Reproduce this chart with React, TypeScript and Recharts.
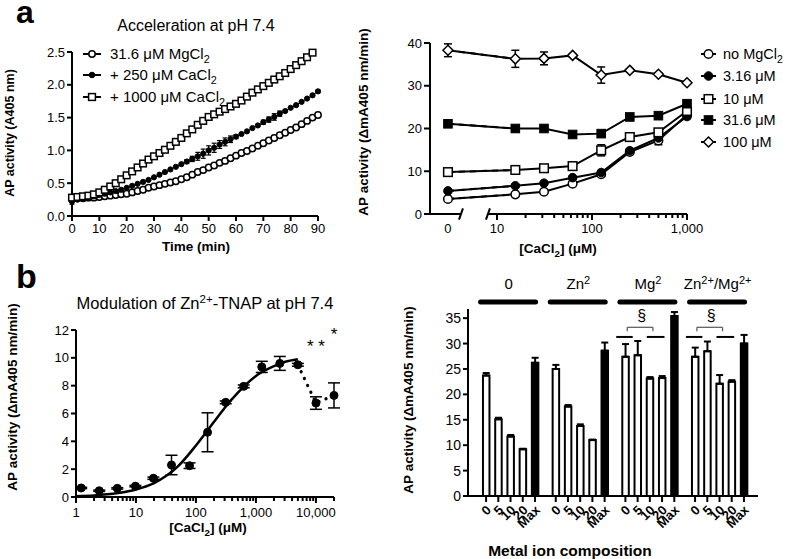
import React from 'react';
import {
  LineChart, Line, BarChart, Bar, XAxis, YAxis, ErrorBar, ReferenceLine, ReferenceDot, Cell,
} from 'recharts';

const FONT = '"Liberation Sans", Arial, Helvetica, sans-serif';

// ---------- panel a, left: time course ----------
const timeMin = [0, 2, 4, 6, 8, 10, 12, 14, 16, 18, 20, 22, 24, 26, 28, 30, 32, 34, 36, 38, 40, 42, 44, 46, 48,
  50, 52, 54, 56, 58, 60, 62, 64, 66, 68, 70, 72, 74, 76, 78, 80, 82, 84, 86, 88, 90];
const mgOnly = [0.27, 0.27, 0.27, 0.28, 0.28, 0.29, 0.30, 0.31, 0.32, 0.33, 0.34, 0.36, 0.38, 0.40, 0.43, 0.45,
  0.47, 0.49, 0.51, 0.53, 0.56, 0.59, 0.63, 0.67, 0.70, 0.74, 0.77, 0.81, 0.84, 0.88, 0.92, 0.96, 0.99, 1.03,
  1.07, 1.11, 1.15, 1.19, 1.23, 1.27, 1.31, 1.35, 1.40, 1.45, 1.50, 1.54];
const plusCa250 = [0.22, 0.25, 0.27, 0.28, 0.30, 0.32, 0.34, 0.36, 0.38, 0.40, 0.43, 0.46, 0.49, 0.52, 0.55, 0.59,
  0.63, 0.67, 0.71, 0.75, 0.79, 0.83, 0.87, 0.91, 0.95, 1.00, 1.04, 1.09, 1.13, 1.17, 1.21, 1.25, 1.29, 1.34,
  1.38, 1.43, 1.47, 1.51, 1.56, 1.60, 1.65, 1.69, 1.74, 1.79, 1.84, 1.90];
const plusCa250Err = [0.04, 0, 0, 0, 0, 0, 0, 0, 0, 0, 0, 0, 0, 0, 0, 0,
  0, 0, 0, 0, 0, 0.03, 0.04, 0.06, 0.07, 0.07, 0.07, 0.06, 0.06, 0.05, 0.03, 0, 0, 0,
  0, 0.03, 0.04, 0.05, 0.04, 0, 0, 0, 0, 0, 0.02, 0.02];
const plusCa1000 = [0.28, 0.29, 0.30, 0.31, 0.33, 0.36, 0.40, 0.45, 0.50, 0.56, 0.62, 0.68, 0.74, 0.80, 0.86, 0.91,
  0.96, 1.01, 1.07, 1.13, 1.19, 1.26, 1.32, 1.39, 1.45, 1.51, 1.55, 1.59, 1.63, 1.67, 1.71, 1.76, 1.82, 1.88,
  1.93, 1.98, 2.03, 2.08, 2.13, 2.18, 2.24, 2.30, 2.36, 2.42, 2.49];
const timeTicks = [0, 10, 20, 30, 40, 50, 60, 70, 80, 90];

// ---------- panel a, right: CaCl2 titration at several MgCl2 ----------
const caConc = [0, 15.6, 31.25, 62.5, 125, 250, 500, 1000];
const noMg = [3.5, 4.6, 5.2, 7.1, 9.3, 14.5, 17.2, 23.2];
const noMgErr = [0.4, 0.3, 0.3, 0.4, 0.4, 0.5, 1.0, 0.4];
const mg316 = [5.4, 6.6, 7.2, 8.5, 9.7, 14.8, 17.8, 22.8];
const mg316Err = [0.3, 0.3, 0.3, 0.3, 0.3, 0.5, 0.6, 0.5];
const mg10 = [9.8, 10.3, 10.7, 11.2, 14.9, 18.0, 19.1, 24.1];
const mg10Err = [0.4, 0.4, 0.5, 0.4, 1.3, 0.4, 0.5, 0.6];
const mg316b = [21.1, 20.0, 20.0, 18.6, 18.8, 22.7, 23.0, 25.8];
const mg316bErr = [0.3, 0.3, 0.3, 0.3, 0.6, 0.3, 0.3, 0.3];
const mg100 = [38.3, 36.3, 36.4, 37.1, 32.5, 33.6, 32.7, 30.7];
const mg100Err = [1.5, 2.0, 1.5, 0.3, 1.9, 0.3, 0.3, 0.3];

// ---------- panel b, left: Zn2+-TNAP vs CaCl2 ----------
const caZn = [1.22, 2.44, 4.88, 9.77, 19.5, 39.1, 78.1, 156, 313, 625, 1250, 2500, 5000, 10000, 20000];
const actZn = [0.65, 0.45, 0.62, 0.78, 1.35, 2.3, 2.25, 4.65, 6.8, 7.95, 9.35, 9.6, 9.5, 6.75, 7.3];
const actZnErr = [0.05, 0.05, 0.05, 0.05, 0.08, 0.7, 0.2, 1.4, 0.1, 0.1, 0.4, 0.5, 0.1, 0.45, 0.9];
const fitConc = [1, 2, 5, 10, 20, 50, 100, 200, 300, 500, 1000, 2000, 3000, 5000];
const fitAct = [0.06, 0.11, 0.28, 0.54, 1.0, 2.2, 3.7, 5.4, 6.4, 7.5, 8.7, 9.4, 9.7, 9.9];
const dropConc = [5000, 10000, 20000];
const dropAct = [9.5, 6.75, 7.3];

// ---------- panel b, right: metal ion composition ----------
const groupNames = ['0', 'Zn2', 'Mg2', 'Zn2+/Mg2+'];
const doseLabels = ['0', '5', '10', '20', 'Max'];
const noMetal = [23.7, 15.1, 11.7, 9.2, 26.2];
const noMetalErr = [0.5, 0.3, 0.3, 0.1, 1.0];
const zinc = [25.0, 17.6, 13.8, 11.0, 28.6];
const zincErr = [0.8, 0.3, 0.3, 0.1, 1.6];
const magnesium = [27.4, 27.7, 23.1, 23.2, 35.4];
const magnesiumErr = [2.5, 2.8, 0.3, 0.4, 0.8];
const zincMagnesium = [27.4, 28.5, 22.1, 22.5, 30.0];
const zincMagnesiumErr = [1.8, 1.9, 1.7, 0.3, 1.7];

// ---------- shared styling ----------
const AXIS = { stroke: '#000', strokeWidth: 2 };
const TICK = { fill: '#000', fontSize: 13, fontFamily: FONT };

const openCircle = (r: number) => (p: any) =>
  <circle key={`oc${p.index}`} cx={p.cx} cy={p.cy} r={r} fill="#fff" stroke="#000" strokeWidth={1.5} />;
const filledCircle = (r: number) => (p: any) =>
  <circle key={`fc${p.index}`} cx={p.cx} cy={p.cy} r={r} fill="#000" stroke="#000" strokeWidth={1} />;
const openSquare = (s: number) => (p: any) =>
  <rect key={`os${p.index}`} x={p.cx - s} y={p.cy - s} width={2 * s} height={2 * s} fill="#fff" stroke="#000" strokeWidth={1.5} />;
const filledSquare = (s: number) => (p: any) =>
  <rect key={`fs${p.index}`} x={p.cx - s} y={p.cy - s} width={2 * s} height={2 * s} fill="#000" stroke="#000" strokeWidth={1} />;
const openDiamond = (s: number) => (p: any) =>
  <path key={`od${p.index}`} d={`M${p.cx},${p.cy - s}L${p.cx + s},${p.cy}L${p.cx},${p.cy + s}L${p.cx - s},${p.cy}Z`}
    fill="#fff" stroke="#000" strokeWidth={1.5} />;

// ---------- panel a, left ----------
function KineticsChart() {
  const rows = (ys: number[], errs?: number[]) => ys.map((y, i) => ({ t: timeMin[i], y, e: errs ? errs[i] : 0 }));
  return (
    <div style={{ position: 'absolute', left: 0, top: 0 }}>
      <LineChart width={340} height={260} margin={{ top: 52, right: 22, bottom: 14, left: 32 }}>
        <XAxis type="number" dataKey="t" domain={[0, 90]} ticks={timeTicks}
          axisLine={AXIS} tickLine={AXIS} tick={TICK} tickSize={5} tickMargin={3} height={30} />
        <YAxis type="number" domain={[0, 2.5]} ticks={[0, 0.5, 1, 1.5, 2, 2.5]} tickFormatter={(v: number) => v.toFixed(1)}
          axisLine={AXIS} tickLine={AXIS} tick={TICK} tickSize={5} width={40} />
        <Line data={rows(mgOnly)} dataKey="y" stroke="#000" strokeWidth={1} dot={openCircle(3.2)} isAnimationActive={false} />
        <Line data={rows(plusCa250, plusCa250Err)} dataKey="y" stroke="#000" strokeWidth={1} dot={filledCircle(2.6)} isAnimationActive={false}>
          <ErrorBar dataKey="e" width={2.5} stroke="#000" strokeWidth={1.2} direction="y" />
        </Line>
        <Line data={rows(plusCa1000)} dataKey="y" stroke="#000" strokeWidth={1} dot={openSquare(3.3)} isAnimationActive={false} />
      </LineChart>
    </div>
  );
}

// ---------- panel a, right ----------
const ZERO_POS = 0.484;
const xPos = (c: number) => (c === 0 ? ZERO_POS : Math.log10(c));
const minorA = [20, 30, 40, 50, 60, 70, 80, 90, 200, 300, 400, 500, 600, 700, 800, 900].map(Math.log10);
const ticksA = [ZERO_POS, 1, 2, 3, ...minorA];
const majorLabelA: Record<string, string> = { '1': '10', '2': '100', '3': '1,000' };

const TickA = (p: any) => {
  const v = p.payload.value;
  if (Math.abs(v - ZERO_POS) < 1e-6) {
    return <text x={p.x} y={p.y + 19} textAnchor="middle" fontSize={13} fontFamily={FONT}>0</text>;
  }
  const lbl = majorLabelA[String(v)];
  return (
    <g>
      <line x1={p.x} x2={p.x} y1={p.y} y2={p.y + (lbl ? 6 : 4)} stroke="#000" strokeWidth={2} />
      {lbl && <text x={p.x} y={p.y + 19} textAnchor="middle" fontSize={13} fontFamily={FONT}>{lbl}</text>}
    </g>
  );
};

function TitrationChart() {
  const series = [
    { vals: noMg, errs: noMgErr, dot: openCircle(4.3) },
    { vals: mg316, errs: mg316Err, dot: filledCircle(4.3) },
    { vals: mg10, errs: mg10Err, dot: openSquare(4.3) },
    { vals: mg316b, errs: mg316bErr, dot: filledSquare(4.3) },
    { vals: mg100, errs: mg100Err, dot: openDiamond(5) },
  ];
  return (
    <div style={{ position: 'absolute', left: 390, top: 0 }}>
      <LineChart width={401} height={260} margin={{ top: 43, right: 104, bottom: 16, left: 10 }}>
        <XAxis type="number" dataKey="x" domain={[0.295, 3]} ticks={ticksA}
          axisLine={false} tickLine={false} tickSize={0} tickMargin={0} tick={TickA} height={30} interval={0} />
        <YAxis type="number" domain={[0, 40]} ticks={[0, 10, 20, 30, 40]}
          axisLine={AXIS} tickLine={AXIS} tick={TICK} tickSize={6} width={30} />
        <ReferenceLine segment={[{ x: 0.295, y: 0 }, { x: 0.621, y: 0 }]} stroke="#000" strokeWidth={2} ifOverflow="visible" />
        <ReferenceLine segment={[{ x: 0.905, y: 0 }, { x: 3, y: 0 }]} stroke="#000" strokeWidth={2} ifOverflow="visible" />
        <ReferenceLine segment={[{ x: 0.60, y: -1.3 }, { x: 0.642, y: 1.3 }]} stroke="#000" strokeWidth={2} ifOverflow="visible" />
        <ReferenceLine segment={[{ x: 0.884, y: -1.3 }, { x: 0.926, y: 1.3 }]} stroke="#000" strokeWidth={2} ifOverflow="visible" />
        {series.map((s, k) => {
          const rows = caConc.map((c, i) => ({ x: xPos(c), y: s.vals[i], e: s.errs[i] }));
          return [
            <Line key={`d${k}`} data={rows.slice(0, 2)} dataKey="y" stroke="#000" strokeWidth={2}
              strokeDasharray="6 5" dot={false} isAnimationActive={false} />,
            <Line key={`s${k}`} data={rows} dataKey="y" stroke="#000" strokeWidth={2}
              dot={s.dot} isAnimationActive={false}>
              <ErrorBar dataKey="e" width={4} stroke="#000" strokeWidth={1.5} direction="y" />
            </Line>,
          ];
        })}
      </LineChart>
    </div>
  );
}

// ---------- panel b, left ----------
const minorB: number[] = [];
[1, 10, 100, 1000].forEach((d) => [2, 3, 4, 5, 6, 7, 8, 9].forEach((m) => minorB.push(m * d)));
minorB.push(20000);
const majorLabelB: Record<string, string> = { '1': '1', '10': '10', '100': '100', '1000': '1,000', '10000': '10,000' };
const ticksB = [1, 10, 100, 1000, 10000, ...minorB];

const TickB = (p: any) => {
  const v = p.payload.value;
  const lbl = majorLabelB[String(v)];
  return (
    <g>
      <line x1={p.x} x2={p.x} y1={p.y} y2={p.y + (lbl ? 6 : 4)} stroke="#000" strokeWidth={2} />
      {lbl && <text x={p.x} y={p.y + 20} textAnchor="middle" fontSize={13} fontFamily={FONT}>{lbl}</text>}
    </g>
  );
};

const starLabel = (txt: string) => (p: any) =>
  <text x={p.viewBox.x} y={p.viewBox.y + 9} textAnchor="middle" fontSize={17} fontFamily={FONT}>{txt}</text>;

function ZincChart() {
  const pts = caZn.map((c, i) => ({ c, y: actZn[i], e: actZnErr[i] }));
  const fit = fitConc.map((c, i) => ({ c, y: fitAct[i] }));
  const drop = dropConc.map((c, i) => ({ c, y: dropAct[i] }));
  return (
    <div style={{ position: 'absolute', left: 0, top: 270 }}>
      <LineChart width={360} height={289} margin={{ top: 60, right: 26, bottom: 32, left: 40 }}>
        <XAxis type="number" dataKey="c" scale="log" domain={[1, 20000]} ticks={ticksB} interval={0}
          axisLine={AXIS} tickLine={false} tickSize={0} tickMargin={0} tick={TickB} height={30} />
        <YAxis type="number" domain={[0, 12]} ticks={[0, 2, 4, 6, 8, 10, 12]}
          axisLine={AXIS} tickLine={AXIS} tick={TICK} tickSize={5} width={36} />
        <Line data={fit} dataKey="y" type="monotone" stroke="#000" strokeWidth={2.5} dot={false} isAnimationActive={false} />
        <Line data={drop} dataKey="y" stroke="#000" strokeWidth={3.2} strokeDasharray="0.1 7.5" strokeLinecap="round"
          dot={false} isAnimationActive={false} />
        <Line data={pts} dataKey="y" stroke="none" dot={filledCircle(4)} isAnimationActive={false}>
          <ErrorBar dataKey="e" width={6} stroke="#000" strokeWidth={1.5} direction="y" />
        </Line>
        <ReferenceDot x={10000} y={11.1} r={0} ifOverflow="visible" label={starLabel('* *')} />
        <ReferenceDot x={20000} y={11.9} r={0} ifOverflow="visible" label={starLabel('*')} />
      </LineChart>
    </div>
  );
}

// ---------- panel b, right ----------
const GROUP_STEP = 5.7;
const groupVals = [noMetal, zinc, magnesium, zincMagnesium];
const groupErrs = [noMetalErr, zincErr, magnesiumErr, zincMagnesiumErr];
const barRows = groupVals.flatMap((vals, g) =>
  vals.map((v, i) => ({ pos: g * GROUP_STEP + i, v, e: [0, groupErrs[g][i]], dose: doseLabels[i], max: i === 4 })));

const TickBar = (p: any) => {
  const row = barRows.find((r) => Math.abs(r.pos - p.payload.value) < 1e-6);
  const ax = p.x - 1;
  const ay = p.y + 8;
  return (
    <g>
      <line x1={p.x} x2={p.x} y1={p.y} y2={p.y + 6} stroke="#000" strokeWidth={2} />
      <text x={ax} y={ay} textAnchor="end" dominantBaseline="hanging" fontSize={13} fontWeight="bold" fontFamily={FONT}
        transform={`rotate(-45 ${ax} ${ay})`}>{row ? row.dose : ''}</text>
    </g>
  );
};

const groupLabel = (name: string) => (p: any) => {
  const { x, y } = p.viewBox;
  const parts = name.split('/');
  const out: any[] = [];
  parts.forEach((s, k) => {
    const m = s.match(/^([A-Za-z]+)(.*)$/);
    const lead = k > 0 ? '/' : '';
    if (m && m[2]) {
      out.push(<tspan key={`a${k}`} dy={k > 0 ? 5 : 0}>{lead + m[1]}</tspan>);
      out.push(<tspan key={`b${k}`} dy={-5} fontSize={11}>{m[2]}</tspan>);
    } else {
      out.push(<tspan key={`a${k}`}>{lead + s}</tspan>);
    }
  });
  return (
    <text x={x} y={y + 5} textAnchor="middle" fontSize={15} fontFamily={FONT}>{out}</text>
  );
};

const sectionLabel = (p: any) =>
  <text x={p.viewBox.x} y={p.viewBox.y + 6} textAnchor="middle" fontSize={16} fontFamily={FONT}>§</text>;

function MetalChart() {
  return (
    <div style={{ position: 'absolute', left: 390, top: 270 }}>
      <BarChart width={401} height={289} data={barRows} margin={{ top: 39, right: 33, bottom: 18, left: 48 }}>
        <XAxis type="number" dataKey="pos" domain={[-1.48, 3 * GROUP_STEP + 4 + 1.15]} ticks={barRows.map((r) => r.pos)}
          allowDataOverflow interval={0} axisLine={AXIS} tickLine={false} tickSize={0} tickMargin={0} tick={TickBar} height={45} />
        <YAxis type="number" domain={[0, 36.8]} ticks={[0, 5, 10, 15, 20, 25, 30, 35]}
          axisLine={AXIS} tickLine={AXIS} tick={{ ...TICK, fontSize: 14 }} tickSize={5} width={30} />
        <Bar dataKey="v" barSize={6.5} stroke="#000" strokeWidth={2} isAnimationActive={false}>
          {barRows.map((r, i) => <Cell key={i} fill={r.max ? '#000' : '#fff'} />)}
          <ErrorBar dataKey="e" width={3.5} stroke="#000" strokeWidth={2} direction="y" />
        </Bar>
        {groupNames.map((name, g) => {
          const base = g * GROUP_STEP;
          return [
            <ReferenceLine key={`gl${g}`} segment={[{ x: base - 0.45, y: 38.2 }, { x: base + 4.05, y: 38.2 }]}
              stroke="#000" strokeWidth={5} strokeLinecap="round" ifOverflow="visible" />,
            <ReferenceDot key={`gn${g}`} x={base + 1.85} y={41.7} r={0} ifOverflow="visible" label={groupLabel(name)} />,
          ];
        })}
        {[2, 3].map((g) => {
          const base = g * GROUP_STEP;
          return [
            <ReferenceLine key={`d1${g}`} segment={[{ x: base - 0.75, y: 31.3 }, { x: base + 0.6, y: 31.3 }]} stroke="#000" strokeWidth={2} />,
            <ReferenceLine key={`d2${g}`} segment={[{ x: base + 1.75, y: 31.3 }, { x: base + 3.2, y: 31.3 }]} stroke="#000" strokeWidth={2} />,
            <ReferenceLine key={`b1${g}`} segment={[{ x: base + 0.15, y: 32.4 }, { x: base + 0.15, y: 33.2 }]} stroke="#555" strokeWidth={1.2} />,
            <ReferenceLine key={`b2${g}`} segment={[{ x: base + 0.15, y: 33.2 }, { x: base + 2.25, y: 33.2 }]} stroke="#555" strokeWidth={1.2} />,
            <ReferenceLine key={`b3${g}`} segment={[{ x: base + 2.25, y: 33.2 }, { x: base + 2.25, y: 32.4 }]} stroke="#555" strokeWidth={1.2} />,
            <ReferenceDot key={`sec${g}`} x={base + 1.33} y={35.7} r={0} ifOverflow="visible" label={sectionLabel} />,
          ];
        })}
      </BarChart>
    </div>
  );
}

// ---------- text overlay: titles, axis titles, legends ----------
function Overlay() {
  const sub = (s: string) => <tspan dy={4} fontSize="0.72em">{s}</tspan>;
  const up = (s: string) => <tspan dy={-4}>{s}</tspan>;
  const legendA = [
    { dot: openCircle(3.2), label: <>31.6 μM MgCl{sub('2')}</>, y: 54 },
    { dot: filledCircle(2.8), label: <>+ 250 μM CaCl{sub('2')}</>, y: 75 },
    { dot: openSquare(3.4), label: <>+ 1000 μM CaCl{sub('2')}</>, y: 97 },
  ];
  const legendB = [
    { dot: openCircle(4.3), label: <>no MgCl{sub('2')}</>, y: 54 },
    { dot: filledCircle(4.3), label: <>3.16 μM</>, y: 76 },
    { dot: openSquare(4.3), label: <>10 μM</>, y: 99 },
    { dot: filledSquare(4.3), label: <>31.6 μM</>, y: 120 },
    { dot: openDiamond(5), label: <>100 μM</>, y: 142 },
  ];
  const bold = { fontWeight: 'bold' as const, fontSize: 13.5 };
  return (
    <svg width={791} height={559} style={{ position: 'absolute', left: 0, top: 0, pointerEvents: 'none' }} fontFamily={FONT}>
      <text x={16} y={23} fontSize={32} fontWeight="bold">a</text>
      <text x={16} y={288} fontSize={34} fontWeight="bold">b</text>

      <text x={196} y={31} fontSize={16} textAnchor="middle">Acceleration at pH 7.4</text>
      <text x={205} y={309} fontSize={16.5} textAnchor="middle">
        Modulation of Zn<tspan dy={-6} fontSize={11.5}>2+</tspan><tspan dy={6}>-TNAP at pH 7.4</tspan>
      </text>

      <text x={196} y={251} textAnchor="middle" {...bold}>Time (min)</text>
      <text x={558} y={253} textAnchor="middle" {...bold}>[CaCl{sub('2')}{up('] (μM)')}</text>
      <text x={208} y={532} textAnchor="middle" {...bold}>[CaCl{sub('2')}{up('] (μM)')}</text>
      <text x={570} y={556} textAnchor="middle" fontWeight="bold" fontSize={15.5}>Metal ion composition</text>

      <text transform="translate(14,133) rotate(-90)" textAnchor="middle" fontWeight="bold" fontSize={12.5}>AP activity (A405 nm)</text>
      <text transform="translate(368,122) rotate(-90)" textAnchor="middle" {...bold}>AP activity (ΔmA405 nm/min)</text>
      <text transform="translate(17,397) rotate(-90)" textAnchor="middle" {...bold}>AP activity (ΔmA405 nm/min)</text>
      <text transform="translate(413,400) rotate(-90)" textAnchor="middle" {...bold}>AP activity (ΔmA405 nm/min)</text>

      {legendA.map((l, i) => (
        <g key={`la${i}`}>
          <line x1={83} x2={101} y1={l.y} y2={l.y} stroke="#000" strokeWidth={2} />
          {l.dot({ cx: 92, cy: l.y, index: i })}
          <text x={110} y={l.y + 5} fontSize={15}>{l.label}</text>
        </g>
      ))}
      {legendB.map((l, i) => (
        <g key={`lb${i}`}>
          <line x1={701} x2={716} y1={l.y} y2={l.y} stroke="#000" strokeWidth={2} />
          {l.dot({ cx: 708.5, cy: l.y, index: i })}
          <text x={723} y={l.y + 5} fontSize={14.5}>{l.label}</text>
        </g>
      ))}
    </svg>
  );
}

export default function App() {
  return (
    <div style={{ position: 'absolute', left: 0, top: 0, width: 791, height: 559, background: '#fff', fontFamily: FONT, overflow: 'hidden' }}>
      <KineticsChart />
      <TitrationChart />
      <ZincChart />
      <MetalChart />
      <Overlay />
    </div>
  );
}
